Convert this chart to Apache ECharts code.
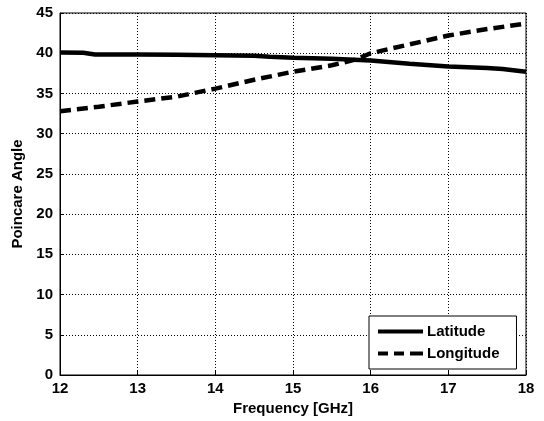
<!DOCTYPE html>
<html>
<head>
<meta charset="utf-8">
<script src="https://cdn.jsdelivr.net/npm/echarts@6/dist/echarts.min.js"></script>
<style>
  html, body { margin: 0; padding: 0; background: #fff; }
  #chart { width: 544px; height: 421px; }
</style>
</head>
<body>
<div id="chart"></div>
<script>
// Poincare sphere angles versus frequency
const freqLat = [12, 12.3, 12.45, 13, 13.5, 14, 14.5, 14.7, 15, 15.5, 16, 16.5, 17, 17.5, 17.7, 18];
const latitude = [40.1, 40.05, 39.85, 39.85, 39.8, 39.75, 39.7, 39.55, 39.45, 39.3, 39.1, 38.7, 38.35, 38.15, 38.05, 37.7];

const freqLon = [12, 12.5, 13, 13.5, 14, 14.5, 15, 15.5, 15.8, 16, 16.5, 17, 17.5, 18];
const longitude = [32.8, 33.35, 34.0, 34.6, 35.6, 36.7, 37.7, 38.5, 39.2, 40.0, 41.1, 42.2, 43.0, 43.7];

const xTicks = [12, 13, 14, 15, 16, 17, 18];
const yTicks = [0, 5, 10, 15, 20, 25, 30, 35, 40, 45];

const pairs = (xs, ys) => xs.map((x, i) => [x, ys[i]]);

const font = 'Liberation Sans';
const gridLine = { show: true, lineStyle: { color: '#000', type: [1, 2], width: 1 } };

const chart = echarts.init(document.getElementById('chart'), null, { renderer: 'canvas' });
chart.setOption({
  animation: false,
  backgroundColor: '#fff',
  grid: { left: 60, right: 18, top: 13, bottom: 46, show: true, borderColor: '#000', borderWidth: 1, backgroundColor: 'transparent' },
  xAxis: {
    type: 'value',
    min: xTicks[0], max: xTicks[xTicks.length - 1], interval: 1,
    name: 'Frequency [GHz]', nameLocation: 'middle', nameGap: 23,
    nameTextStyle: { fontFamily: font, fontSize: 15, fontWeight: 'bold', color: '#000' },
    axisLine: { show: true, lineStyle: { color: '#000', width: 1 } },
    axisTick: { show: true, inside: true, length: 4, lineStyle: { color: '#000' } },
    axisLabel: { fontFamily: font, fontSize: 15, fontWeight: 'bold', color: '#000', margin: 6 },
    splitLine: gridLine
  },
  yAxis: {
    type: 'value',
    min: yTicks[0], max: yTicks[yTicks.length - 1], interval: 5,
    name: 'Poincare Angle', nameLocation: 'middle', nameGap: 31, nameRotate: 90,
    nameTextStyle: { fontFamily: font, fontSize: 15, fontWeight: 'bold', color: '#000' },
    axisLine: { show: true, lineStyle: { color: '#000', width: 1 } },
    axisTick: { show: true, inside: true, length: 4, lineStyle: { color: '#000' } },
    axisLabel: { fontFamily: font, fontSize: 15, fontWeight: 'bold', color: '#000', margin: 7 },
    splitLine: gridLine
  },
  legend: {
    left: 369, top: 316, orient: 'vertical',
    backgroundColor: '#fff', borderColor: '#000', borderWidth: 1, borderRadius: 0,
    padding: [8, 17, 8, 9], itemGap: 7, itemWidth: 45, itemHeight: 15,
    textStyle: { fontFamily: font, fontSize: 15, fontWeight: 'bold', color: '#000', padding: [0, 0, 0, -1] },
    data: [
      { name: 'Latitude', icon: 'path://M0,0 L45,0 L45,4 L0,4 Z' },
      { name: 'Longitude', icon: 'path://M0,0 L10,0 L10,4 L0,4 Z M16,0 L26,0 L26,4 L16,4 Z M32,0 L45,0 L45,4 L32,4 Z' }
    ],
    itemStyle: { color: '#000' }
  },
  series: [
    {
      name: 'Latitude', type: 'line', data: pairs(freqLat, latitude),
      showSymbol: false, symbol: 'none',
      lineStyle: { color: '#000', width: 4.5, type: 'solid' },
      itemStyle: { color: '#000' }
    },
    {
      name: 'Longitude', type: 'line', data: pairs(freqLon, longitude),
      showSymbol: false, symbol: 'none',
      lineStyle: { color: '#000', width: 4.5, type: [11, 6] },
      itemStyle: { color: '#000' }
    }
  ]
});
</script>
</body>
</html>
